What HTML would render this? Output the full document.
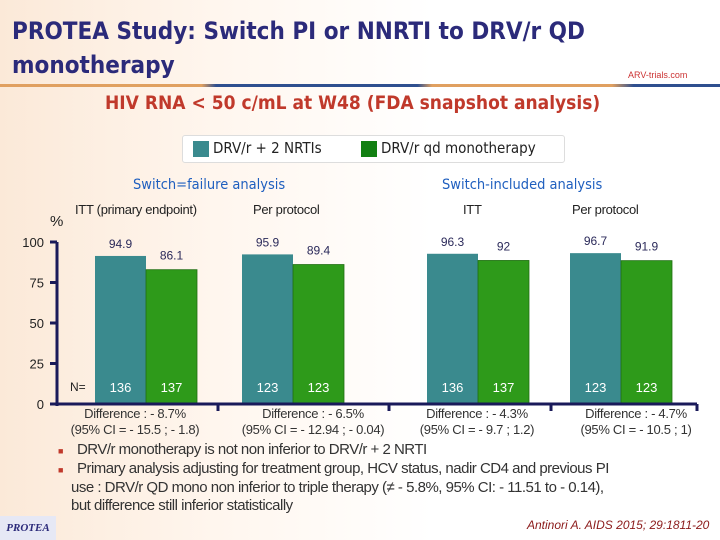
<!DOCTYPE html>
<html><head><meta charset="utf-8"><style>
body{margin:0}
#s{position:relative;width:720px;height:540px;overflow:hidden;background:linear-gradient(90deg,#fbe9d8 0%,#fff6ee 30%,#fff 60%);font-family:"Liberation Sans",sans-serif}
.t{position:absolute;white-space:nowrap}
</style></head><body>
<div id="s">
<div class="t" style="left:12px;top:14px;font-size:24px;line-height:34px;color:#2b2a7a;font-weight:bold;font-family:'DejaVu Sans Condensed','Liberation Sans Narrow',sans-serif">PROTEA Study: Switch PI or NNRTI to DRV/r QD<br>monotherapy</div>
<div style="position:absolute;left:0;top:84px;width:720px;height:3px;background:linear-gradient(90deg,#e0a060 0%,#e0a060 28%,#2f4f8f 30%,#2f4f8f 58%,#e0a060 60%,#e0a060 85%,#2f4f8f 88%)"></div>
<div class="t" style="left:628px;top:70px;font-size:9px;color:#c33">ARV-trials.com</div>
<div class="t" style="left:105px;top:92px;font-size:19px;color:#c0392b;font-weight:bold;font-family:'DejaVu Sans Condensed',sans-serif">HIV RNA &lt; 50 c/mL at W48 (FDA snapshot analysis)</div>
<div style="position:absolute;left:182px;top:135px;width:381px;height:26px;border:1px solid #ddd;border-radius:3px;background:#fff;font-family:'DejaVu Sans Condensed',sans-serif;font-size:15px;color:#222">
<div style="position:absolute;left:10px;top:5px;width:16px;height:16px;background:#3a8a8e"></div><div class="t" style="left:30px;top:3px">DRV/r + 2 NRTIs</div>
<div style="position:absolute;left:178px;top:5px;width:16px;height:16px;background:#128012"></div><div class="t" style="left:198px;top:3px">DRV/r qd monotherapy</div></div>
<svg id="c" width="720" height="540" style="position:absolute;left:0;top:0"></svg>
<div class="t" style="left:58px;top:441px;font-size:15px;line-height:18px;color:#333;letter-spacing:-0.5px;font-family:'Liberation Sans',sans-serif">
<div><span style="color:#c0392b;font-size:9px;margin-right:14px">■</span>DRV/r monotherapy is not non inferior to DRV/r + 2 NRTI</div>
<div><span style="color:#c0392b;font-size:9px;margin-right:14px">■</span>Primary analysis adjusting for treatment group, HCV status, nadir CD4 and previous PI</div>
<div style="padding-left:13px">use : DRV/r QD mono non inferior to triple therapy (≠ - 5.8%, 95% CI: - 11.51 to - 0.14),</div>
<div style="padding-left:13px">but difference still inferior statistically</div></div>
<div class="t" style="left:0;top:516px;width:56px;height:24px;background:#e6e8f5;font-size:11px;font-style:italic;font-weight:bold;color:#2b2a7a;font-family:'Liberation Serif',serif;line-height:24px;text-align:center">PROTEA</div>
<div class="t" style="left:527px;top:518px;font-size:12px;font-style:italic;color:#8b1a1a">Antinori A. AIDS 2015; 29:1811-20</div>
</div>
<script>
const armA=[94.9,95.9,96.3,96.7];
const armB=[86.1,89.4,92,91.9];
const nA=[136,123,136,123];
const nB=[137,123,137,123];
const yTicks=[0,25,50,75,100];
const diffs=["Difference : - 8.7%","Difference : - 6.5%","Difference : - 4.3%","Difference : - 4.7%"];
const cis=["(95% CI = - 15.5 ; - 1.8)","(95% CI = - 12.94 ; - 0.04)","(95% CI = - 9.7 ; 1.2)","(95% CI = - 10.5 ; 1)"];
const sub=["ITT (primary endpoint)","Per protocol","ITT","Per protocol"];
const svg=document.getElementById('c');const NS='http://www.w3.org/2000/svg';
const y=v=>404-v*1.56;
const gx=[95,242,427,570];const bw=51;
function mk(t,a,txt){const e=document.createElementNS(NS,t);for(const k in a)e.setAttribute(k,a[k]);if(txt!=null)e.textContent=txt;svg.appendChild(e);return e;}
const F='Liberation Sans, sans-serif';
mk('text',{x:133,y:189,'font-size':14.5,fill:'#1f5fbf','font-family':'DejaVu Sans Condensed,sans-serif'},'Switch=failure analysis');
mk('text',{x:442,y:189,'font-size':14.5,fill:'#1f5fbf','font-family':'DejaVu Sans Condensed,sans-serif'},'Switch-included analysis');
const sx=[75,253,463,572];
sub.forEach((s,i)=>{const e=mk('text',{x:sx[i],y:214,'font-size':13,fill:'#222','font-family':F,'letter-spacing':'-0.3'},s);});
mk('text',{x:50,y:226,'font-size':15,fill:'#222','font-family':F},'%');
for(let i=0;i<4;i++){
 const ya=y(armA[i]),yb=y(armB[i]);
 let r=mk('rect',{x:gx[i],y:ya,width:bw,height:404-ya,fill:'#3a8a8e'});
 r=mk('rect',{x:gx[i]+bw,y:yb,width:bw,height:404-yb,fill:'#2e9a1a',stroke:'#1e6e10','stroke-width':0.8});
 mk('text',{x:gx[i]+bw/2,y:ya-8,'text-anchor':'middle','font-size':12,fill:'#2b2a5a','font-family':F},armA[i]);
 mk('text',{x:gx[i]+bw*1.5,y:yb-10,'text-anchor':'middle','font-size':12,fill:'#2b2a5a','font-family':F},armB[i]);
 mk('text',{x:gx[i]+bw/2,y:392,'text-anchor':'middle','font-size':13,fill:'#fff','font-family':F},nA[i]);
 mk('text',{x:gx[i]+bw*1.5,y:392,'text-anchor':'middle','font-size':13,fill:'#fff','font-family':F},nB[i]);
 const cx=[135,313,477,636][i];
 mk('text',{x:cx,y:418,'text-anchor':'middle','font-size':13,fill:'#333','font-family':F,'letter-spacing':'-0.3'},diffs[i]);
 mk('text',{x:cx,y:434,'text-anchor':'middle','font-size':13,fill:'#333','font-family':F,'letter-spacing':'-0.3'},cis[i]);
}
mk('text',{x:70,y:391,'font-size':12,fill:'#222','font-family':F},'N=');
mk('line',{x1:57,y1:242,x2:57,y2:406,stroke:'#1a1a5a','stroke-width':3});
mk('line',{x1:55,y1:404,x2:697,y2:404,stroke:'#1a1a5a','stroke-width':3});
yTicks.forEach(v=>{const ty=404-v*1.62;mk('line',{x1:50,y1:ty,x2:57,y2:ty,stroke:'#1a1a5a','stroke-width':3});const t=mk('text',{x:44,y:ty+5,'text-anchor':'end','font-size':13,fill:'#222','font-family':F},v);});
[218,389,551,697].forEach(x=>mk('line',{x1:x,y1:404,x2:x,y2:411,stroke:'#1a1a5a','stroke-width':3}));
</script>
</body></html>
